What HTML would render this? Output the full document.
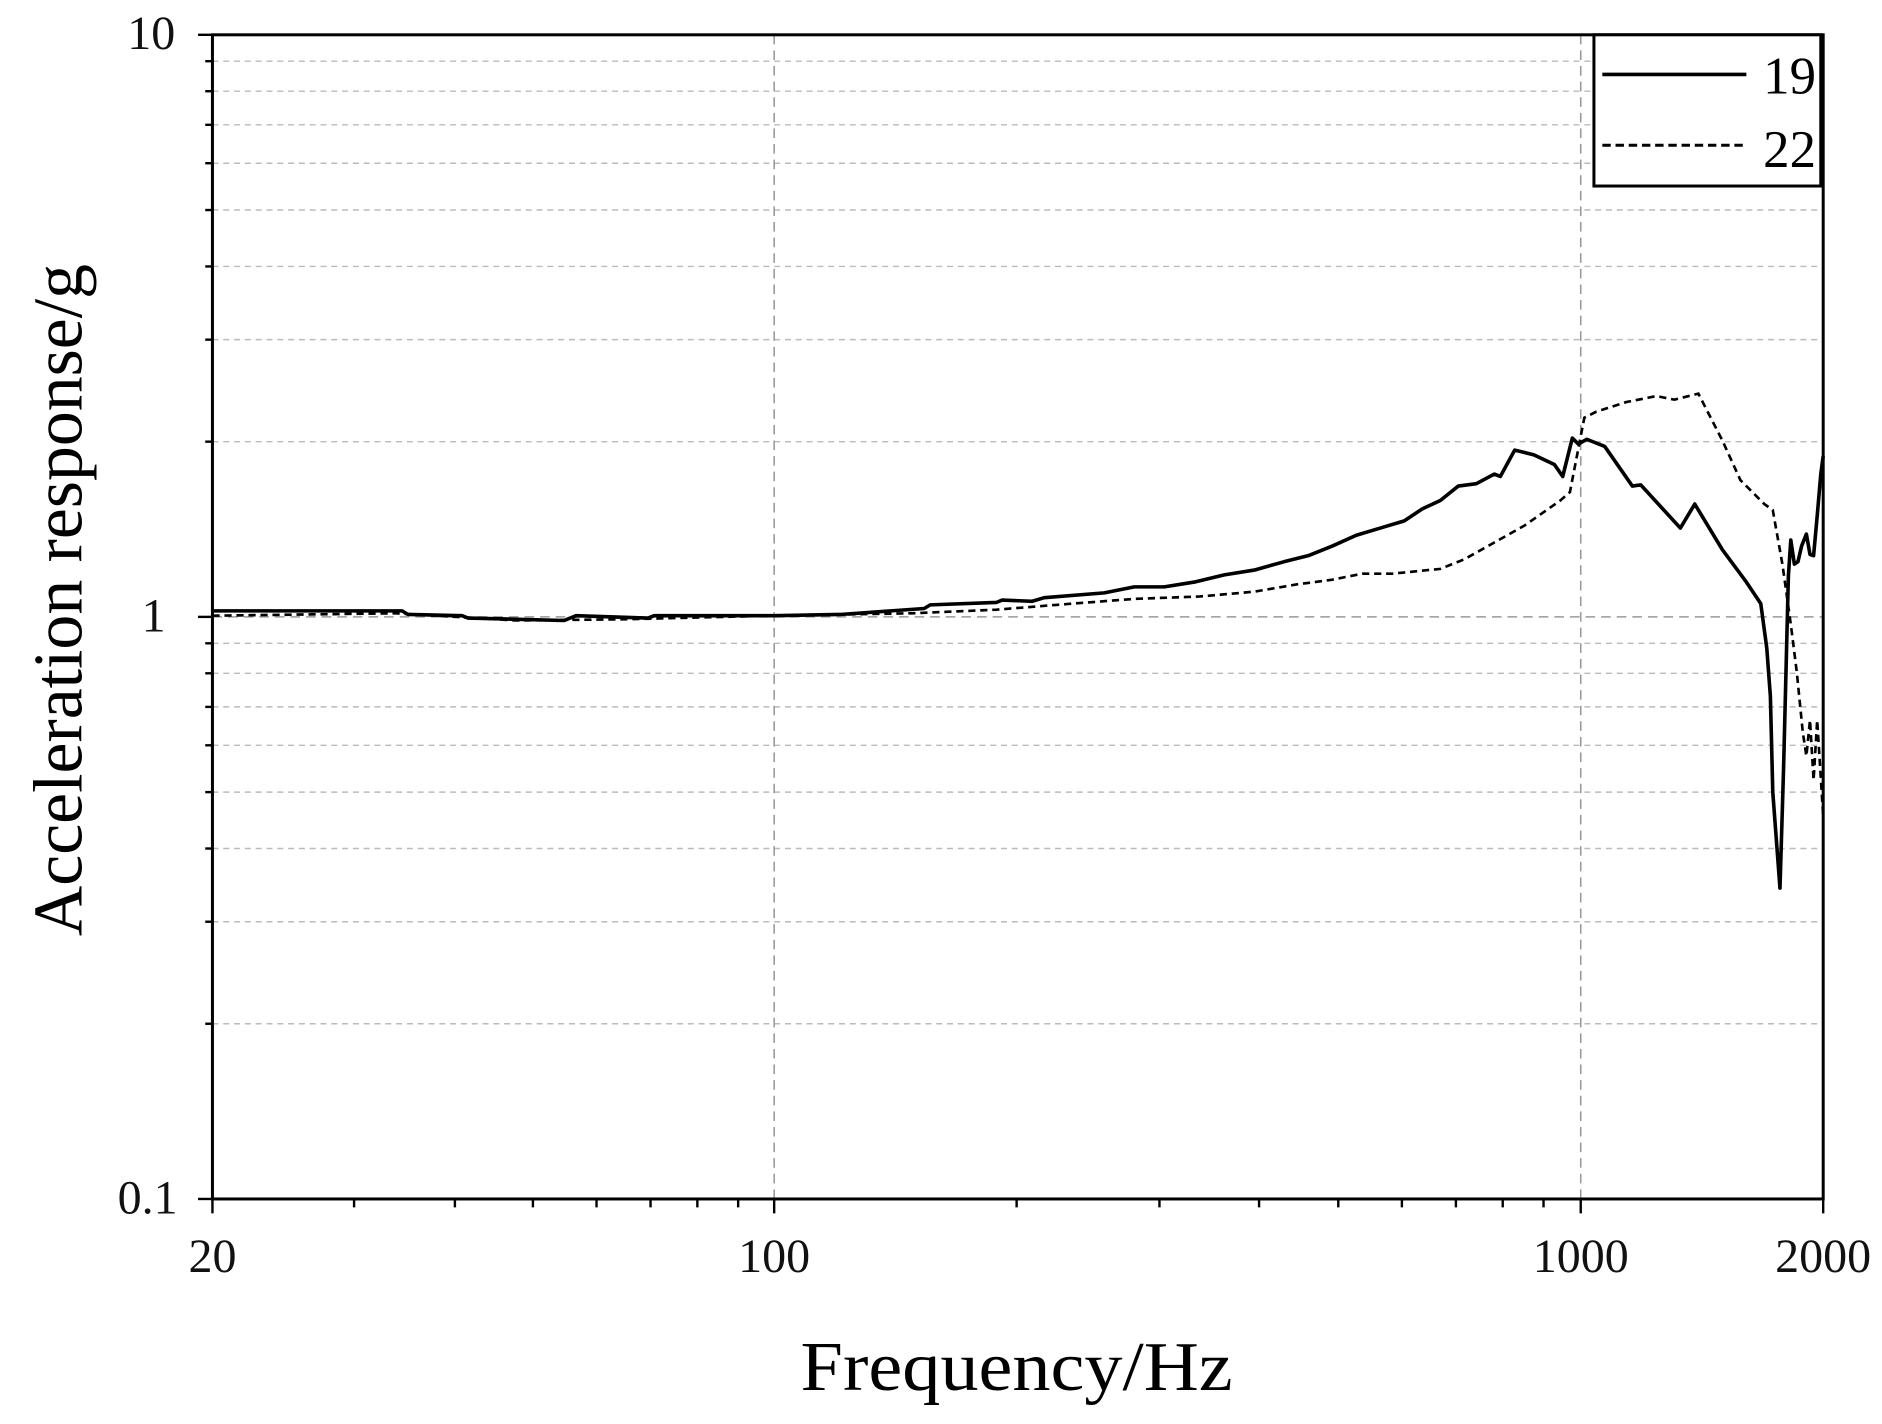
<!DOCTYPE html>
<html><head><meta charset="utf-8"><style>html,body{margin:0;padding:0;background:#fff}svg{display:block}</style></head>
<body>
<svg width="1882" height="1424" viewBox="0 0 1568 1186.5" preserveAspectRatio="none" xmlns="http://www.w3.org/2000/svg" font-family="'Liberation Serif', serif">
<rect width="1568" height="1187" fill="#fff"/>
<g stroke="#bbb" stroke-width="1.2" stroke-dasharray="5,4">
<line x1="177" x2="1519" y1="368" y2="368"/>
<line x1="177" x2="1519" y1="283" y2="283"/>
<line x1="177" x2="1519" y1="222" y2="222"/>
<line x1="177" x2="1519" y1="175" y2="175"/>
<line x1="177" x2="1519" y1="136" y2="136"/>
<line x1="177" x2="1519" y1="104" y2="104"/>
<line x1="177" x2="1519" y1="76" y2="76"/>
<line x1="177" x2="1519" y1="51" y2="51"/>
<line x1="177" x2="1519" y1="853" y2="853"/>
<line x1="177" x2="1519" y1="768" y2="768"/>
<line x1="177" x2="1519" y1="707" y2="707"/>
<line x1="177" x2="1519" y1="660" y2="660"/>
<line x1="177" x2="1519" y1="621" y2="621"/>
<line x1="177" x2="1519" y1="589" y2="589"/>
<line x1="177" x2="1519" y1="561" y2="561"/>
<line x1="177" x2="1519" y1="536" y2="536"/>
</g>
<g stroke="#999" stroke-width="1.3" stroke-dasharray="8,5">
<line x1="177" x2="1519" y1="514" y2="514"/>
<line x1="645" x2="645" y1="29" y2="999"/>
<line x1="1317" x2="1317" y1="29" y2="999"/>
</g>
<g stroke="#000" stroke-width="2">
<line x1="177" x2="165" y1="29" y2="29"/><line x1="177" x2="165" y1="514" y2="514"/><line x1="177" x2="165" y1="999" y2="999"/>
<line x1="177" x2="171" y1="368" y2="368"/><line x1="177" x2="171" y1="283" y2="283"/><line x1="177" x2="171" y1="222" y2="222"/><line x1="177" x2="171" y1="175" y2="175"/><line x1="177" x2="171" y1="136" y2="136"/><line x1="177" x2="171" y1="104" y2="104"/><line x1="177" x2="171" y1="76" y2="76"/><line x1="177" x2="171" y1="51" y2="51"/>
<line x1="177" x2="171" y1="853" y2="853"/><line x1="177" x2="171" y1="768" y2="768"/><line x1="177" x2="171" y1="707" y2="707"/><line x1="177" x2="171" y1="660" y2="660"/><line x1="177" x2="171" y1="621" y2="621"/><line x1="177" x2="171" y1="589" y2="589"/><line x1="177" x2="171" y1="561" y2="561"/><line x1="177" x2="171" y1="536" y2="536"/>
<line x1="177" x2="177" y1="999" y2="1011"/><line x1="645" x2="645" y1="999" y2="1011"/><line x1="1317" x2="1317" y1="999" y2="1011"/><line x1="1519" x2="1519" y1="999" y2="1011"/>
<line x1="295" x2="295" y1="999" y2="1006"/><line x1="379" x2="379" y1="999" y2="1006"/><line x1="444" x2="444" y1="999" y2="1006"/><line x1="497" x2="497" y1="999" y2="1006"/><line x1="542" x2="542" y1="999" y2="1006"/><line x1="581" x2="581" y1="999" y2="1006"/><line x1="615" x2="615" y1="999" y2="1006"/>
<line x1="847" x2="847" y1="999" y2="1006"/><line x1="966" x2="966" y1="999" y2="1006"/><line x1="1049" x2="1049" y1="999" y2="1006"/><line x1="1115" x2="1115" y1="999" y2="1006"/><line x1="1168" x2="1168" y1="999" y2="1006"/><line x1="1213" x2="1213" y1="999" y2="1006"/><line x1="1252" x2="1252" y1="999" y2="1006"/><line x1="1286" x2="1286" y1="999" y2="1006"/>
</g>
<polyline fill="none" stroke="#000" stroke-width="2.2" stroke-dasharray="6,4" points="177,513 330,511 430,517 520,516 645,513 760,511 830,508 880,504 945,499 1000,497 1045,493 1080,487 1110,483 1135,478 1160,478 1200,474 1220,466 1245,452 1270,438 1300,417 1308,410 1320,348 1330,343 1355,335 1380,330 1395,333 1415,328 1435,367 1450,400 1470,420 1477,425 1485,470 1492,520 1497,560 1502,610 1505,630 1508,600 1511,650 1514,600 1519,680"/>
<polyline fill="none" stroke="#000" stroke-width="3" stroke-linejoin="round" points="177,509 335,509 340,512 385,513 390,515 470,517 480,513 540,515 545,513 645,513 700,512 770,507 775,504 830,502 835,500 860,501 870,498 920,494 945,489 970,489 995,485 1020,479 1045,475 1070,468 1090,463 1110,455 1130,446 1150,440 1170,434 1185,424 1200,417 1215,405 1230,403 1245,395 1250,397 1262,375 1278,379 1295,387 1302,397 1310,365 1315,370 1322,366 1337,372 1360,405 1367,404 1400,440 1412,420 1435,458 1455,485 1467,503 1472,540 1475,580 1477,660 1480,700 1483,740 1486,640 1488,560 1490,480 1492,450 1495,470 1498,468 1501,455 1505,445 1508,462 1511,463 1514,430 1517,395 1519,380"/>
<rect x="177" y="29" width="1342" height="970" fill="none" stroke="#000" stroke-width="2.5"/>
<rect x="1328" y="29" width="189" height="126" fill="#fff" stroke="#000" stroke-width="2.5"/>
<line x1="1335" x2="1455" y1="62" y2="62" stroke="#000" stroke-width="3"/>
<line x1="1335" x2="1455" y1="121" y2="121" stroke="#000" stroke-width="2.5" stroke-dasharray="7,4"/>
<text x="1513" y="78" font-size="44" text-anchor="end">19</text>
<text x="1513" y="139" font-size="44" text-anchor="end">22</text>
<g font-size="40" fill="#111">
<text x="146" y="41" text-anchor="end">10</text>
<text x="138" y="526" text-anchor="end">1</text>
<text x="148" y="1011" text-anchor="end">0.1</text>
<text x="177" y="1060" text-anchor="middle">20</text>
<text x="645" y="1060" text-anchor="middle">100</text>
<text x="1317" y="1060" text-anchor="middle">1000</text>
<text x="1519" y="1060" text-anchor="middle">2000</text>
</g>
<text x="847" y="1158" font-size="58" text-anchor="middle" textLength="360" lengthAdjust="spacingAndGlyphs">Frequency/Hz</text>
<text transform="translate(68,500) rotate(-90)" font-size="58" text-anchor="middle" textLength="560" lengthAdjust="spacingAndGlyphs">Acceleration response/g</text>
</svg>
</body></html>
